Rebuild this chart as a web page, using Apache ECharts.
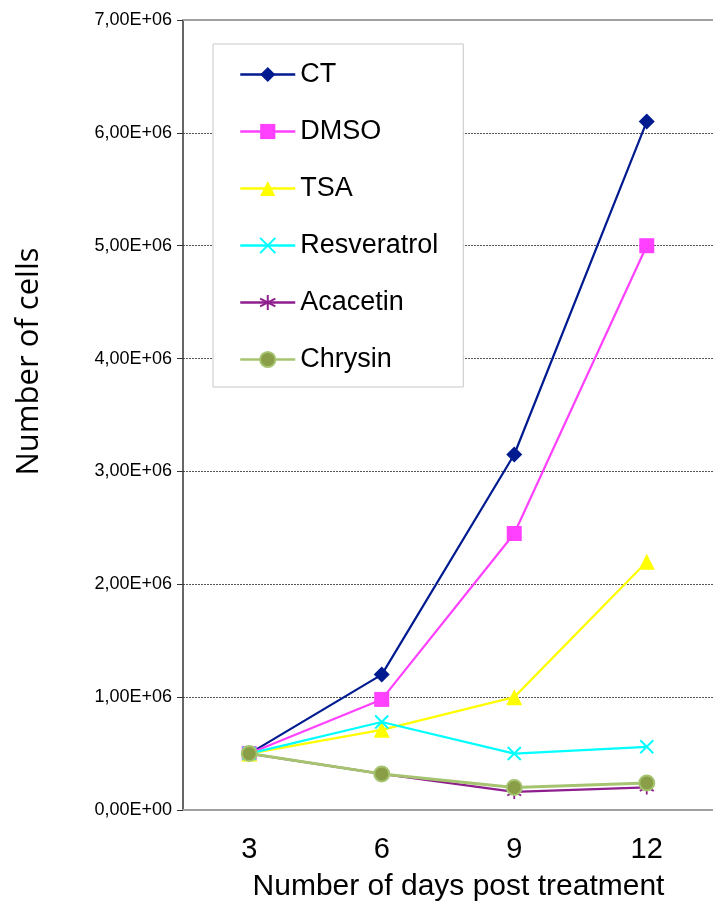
<!DOCTYPE html>
<html>
<head>
<meta charset="utf-8">
<script src="https://cdn.jsdelivr.net/npm/echarts@6/dist/echarts.min.js"></script>
<style>html,body{margin:0;padding:0;background:#fff}#c{width:713px;height:907px}</style>
</head>
<body>
<div id="c"></div>
<script>
const days = ['3', '6', '9', '12'];
const ct = [0.50e6, 1.20e6, 3.15e6, 6.10e6];
const dmso = [0.50e6, 0.98e6, 2.45e6, 5.00e6];
const tsa = [0.50e6, 0.71e6, 1.00e6, 2.20e6];
const resveratrol = [0.50e6, 0.78e6, 0.50e6, 0.56e6];
const acacetin = [0.50e6, 0.32e6, 0.16e6, 0.20e6];
const chrysin = [0.50e6, 0.32e6, 0.20e6, 0.24e6];

const FONT = '"Liberation Sans", Arial, sans-serif';
function sci(v) {
  if (v === 0) return '0,00E+00';
  const e = Math.floor(Math.log10(v) + 1e-9);
  const m = v / Math.pow(10, e);
  return m.toFixed(2).replace('.', ',') + 'E+' + String(e).padStart(2, '0');
}
const X_PATH = 'path://M0 0L10 10M10 0L0 10';
const STAR_PATH = 'path://M5 0L5 10M0.7 2.5L9.3 7.5M9.3 2.5L0.7 7.5';

function mk(name, data, color, symbol, size, extra) {
  return Object.assign({
    name, type: 'line', data, symbol, symbolSize: size,
    lineStyle: { color, width: 2.2 },
    itemStyle: { color, borderColor: color, borderWidth: 0 },
    emphasis: { disabled: true },
    animation: false
  }, extra || {});
}

const chart = echarts.init(document.getElementById('c'));
chart.setOption({
  animation: false,
  grid: { left: 183, top: 20, right: -3, bottom: 96 },
  legend: {
    orient: 'vertical', left: 213, top: 44,
    padding: [17, 25, 14, 26],
    itemWidth: 55, itemHeight: 19, itemGap: 30,
    borderColor: '#c8c8c8', borderWidth: 1, backgroundColor: '#fff',
    lineStyle: { width: 2.5 },
    textStyle: { fontSize: 27, fontFamily: FONT, color: '#000' },
    data: ['CT', 'DMSO', 'TSA', 'Resveratrol', 'Acacetin', 'Chrysin']
  },
  xAxis: [{
    type: 'category', data: days, boundaryGap: true,
    name: 'Number of days post treatment', nameLocation: 'middle', nameGap: 62,
    nameTextStyle: { fontSize: 30, fontFamily: FONT, color: '#000', padding: [0, 0, 0, 21] },
    axisLine: { lineStyle: { color: '#a0a0a0', width: 2 } },
    axisTick: { show: false },
    axisLabel: { fontSize: 29, fontFamily: FONT, color: '#000', margin: 25 }
  }, {
    type: 'category', data: days, position: 'top', boundaryGap: true,
    axisLine: { show: true, lineStyle: { color: '#a0a0a0', width: 2 } },
    axisTick: { show: false }, axisLabel: { show: false }, splitLine: { show: false }
  }],
  yAxis: {
    type: 'value', min: 0, max: 7e6, interval: 1e6,
    name: 'Number of cells', nameLocation: 'middle', nameGap: 138,
    nameTextStyle: { fontSize: 31, fontFamily: '"Open Sans", "Noto Sans", sans-serif', color: '#000', padding: [0, 0, 0, 107] },
    axisLine: { show: true, lineStyle: { color: '#333', width: 1.5 } },
    axisTick: { show: true, length: 6, lineStyle: { color: '#333' } },
    splitLine: { show: true, lineStyle: { color: '#555', type: [2, 1], width: 1 } },
    axisLabel: { fontSize: 18, fontFamily: FONT, color: '#000', margin: 11, formatter: sci }
  },
  series: [
    mk('CT', ct, '#001a8f', 'diamond', 16),
    mk('DMSO', dmso, '#ff40ff', 'rect', 15),
    mk('TSA', tsa, '#ffff00', 'triangle', 16),
    mk('Resveratrol', resveratrol, '#00ffff', X_PATH, 13, { itemStyle: { color: '#00ffff', borderColor: '#00ffff', borderWidth: 2 } }),
    mk('Acacetin', acacetin, '#8e1e8e', STAR_PATH, 14, { itemStyle: { color: '#8e1e8e', borderColor: '#8e1e8e', borderWidth: 1.8 } }),
    mk('Chrysin', chrysin, '#a6c470', 'circle', 15, { lineStyle: { color: '#a6c470', width: 3 }, itemStyle: { color: '#8a9e48', borderColor: '#a6c470', borderWidth: 2 } })
  ]
});
</script>
</body>
</html>
